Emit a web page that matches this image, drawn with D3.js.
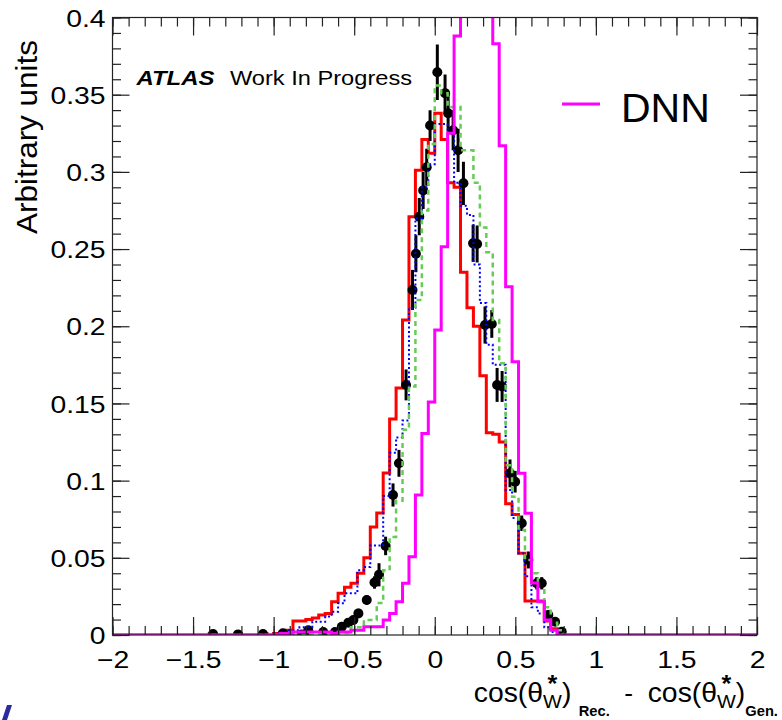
<!DOCTYPE html>
<html><head><meta charset="utf-8">
<script src="https://cdn.jsdelivr.net/npm/d3@7"></script>
<style>
body{margin:0;background:#fff}
svg{display:block}
text{font-family:"Liberation Sans",Arial,Helvetica,sans-serif;fill:#000}
</style>
</head><body>
<svg id="c" width="782" height="720"></svg>
<script>
// ---------------- data ----------------
const binLow = -2, binHigh = 2, nBins = 100;   // histogram binning (0.04 wide)
const xTicksMajor = [-2, -1.5, -1, -0.5, 0, 0.5, 1, 1.5, 2];
const xTickLabels = ["\u22122", "\u22121.5", "\u22121", "\u22120.5", "0", "0.5", "1", "1.5", "2"];
const yTicksMajor = [0, 0.05, 0.1, 0.15, 0.2, 0.25, 0.3, 0.35, 0.4];
const yTickLabels = ["0", "0.05", "0.1", "0.15", "0.2", "0.25", "0.3", "0.35", "0.4"];

// red solid histogram
const redVals = [
 0,0,0,0,0,0,0,0,0,0, 0,0,0,0,0,0.0008,0,0,0,0.0008,
 0,0,0,0.0008,0,0.001,0.002,0.003,0.009,0.009, 0.010,0.011,0.013,0.014,0.0216,0.027,0.031,0.0335,0.040,0.050,
 0.070,0.079,0.105,0.140,0.160,0.204,0.271,0.301,0.321,0.312, 0.338,0.321,0.293,0.290,0.235,0.212,0.200,0.168,0.131,0.130,
 0.125,0.085,0.078,0.053,0.022,0.022,0.022,0.009,0.004,0, 0,0,0,0,0,0,0,0,0,0,
 0,0,0,0,0,0,0,0,0,0, 0,0,0,0,0,0,0,0,0,0];
// blue dotted histogram
const blueVals = [
 0,0,0,0,0,0,0,0,0,0, 0,0,0,0,0,0,0,0,0,0,
 0,0,0,0,0,0.001,0.002,0.003,0.003,0.005, 0.005,0.0086,0.0086,0.012,0.015,0.0205,0.027,0.027,0.042,0.044,
 0.058,0.058,0.090,0.118,0.128,0.139,0.212,0.270,0.290,0.305, 0.331,0.331,0.325,0.293,0.278,0.272,0.240,0.215,0.188,0.175,
 0.175,0.094,0.0758,0.053,0.038,0.018,0.014,0.005,0.002,0, 0,0,0,0,0,0,0,0,0,0,
 0,0,0,0,0,0,0,0,0,0, 0,0,0,0,0,0,0,0,0,0];
// green dashed histogram
const greenVals = [
 0,0,0,0,0,0,0,0,0,0, 0,0,0,0,0,0,0,0,0,0,
 0,0,0,0,0,0,0,0,0,0, 0.001,0.001,0.001,0.0013,0.0013,0.0013,0.0013,0.005,0.005,0.0097,
 0.0097,0.0207,0.042,0.0635,0.087,0.133,0.161,0.217,0.275,0.318, 0.356,0.351,0.342,0.342,0.314,0.314,0.293,0.264,0.248,0.204,
 0.176,0.110,0.0896,0.068,0.0486,0.040,0.029,0.018,0.008,0.003, 0,0,0,0,0,0,0,0,0,0,
 0,0,0,0,0,0,0,0,0,0, 0,0,0,0,0,0,0,0,0,0];
// magenta (DNN) histogram
const dnnVals = [
 0,0,0,0,0,0,0,0,0,0, 0,0,0,0,0,0,0,0,0,0,
 0,0,0,0,0,0,0.001,0.001,0.002,0.002, 0.002,0.002,0.002,0.002,0.001,0.002,0.002,0.003,0.003,0.0054,
 0.0054,0.0054,0.0097,0.014,0.0216,0.0335,0.0507,0.0907,0.1306,0.151, 0.1976,0.2515,0.325,0.388,0.45,0.50,0.52,0.50,0.45,0.383,
 0.317,0.2256,0.177,0.1047,0.0788,0.0337,0.0216,0.0097,0.003,0, 0,0,0,0,0,0,0,0,0,0,
 0,0,0,0,0,0,0,0,0,0, 0,0,0,0,0,0,0,0,0,0];
// black points with error bars
const ptX = [-1.376,-1.221,-1.066,-0.942,-0.826,-0.785,-0.692,-0.619,-0.577,-0.536,-0.505,-0.474,-0.422,-0.374,-0.346,-0.305,-0.259,-0.222,-0.178,-0.138,-0.117,-0.096,-0.072,-0.050,-0.029,0.016,0.064,0.083,0.114,0.145,0.178,0.238,0.263,0.312,0.354,0.387,0.418,0.467,0.499,0.540,0.581,0.633,0.664,0.705,0.747,0.788];
const ptY = [0.0006,0.0004,0.0006,0.0011,0.0003,0.003,0.002,0.002,0.0054,0.008,0.0097,0.014,0.0227,0.034,0.039,0.0577,0.0907,0.1112,0.162,0.2235,0.247,0.271,0.288,0.303,0.330,0.3645,0.351,0.338,0.327,0.314,0.2926,0.2537,0.2533,0.2008,0.2015,0.162,0.161,0.1047,0.0993,0.0724,0.0486,0.0335,0.0335,0.013,0.0086,0.0021];
const ptErr = [0.0012,0.0012,0.0012,0.0012,0.0012,0.0015,0.0015,0.0015,0.002,0.0025,0.0025,0.003,0.003,0.004,0.0075,0.006,0.0075,0.0087,0.010,0.013,0.012,0.012,0.012,0.012,0.010,0.018,0.012,0.012,0.013,0.014,0.014,0.012,0.012,0.012,0.009,0.011,0.010,0.009,0.007,0.005,0.0055,0.004,0.004,0.003,0.002,0.0015];

const legendLabel = "DNN";
const yTitle = "Arbitrary units";

// ---------------- layout ----------------
const svg = d3.select("#c");
const X0 = 112.5, X1 = 757, YB = 635, YT = 17.5;
const x = d3.scaleLinear().domain([binLow, binHigh]).range([X0, X1]);
const y = d3.scaleLinear().domain([0, 0.4]).range([YB, YT]);
const edges = d3.range(nBins + 1).map(i => binLow + i * (binHigh - binLow) / nBins);

function stretch(sel, f) {
  sel.each(function () {
    const L = this.getComputedTextLength();
    d3.select(this).attr("textLength", L * f).attr("lengthAdjust", "spacingAndGlyphs");
  });
}

svg.append("defs").append("clipPath").attr("id", "clip")
  .append("rect").attr("x", X0).attr("y", YT).attr("width", X1 - X0).attr("height", YB - YT);

const plot = svg.append("g").attr("clip-path", "url(#clip)");

function stepPath(vals) {
  let d = "";
  vals.forEach((v, i) => {
    const yv = y(v);
    d += (i === 0 ? `M${x(edges[0])},${yv}` : `V${yv}`) + `H${x(edges[i + 1])}`;
  });
  return d;
}

// red
plot.append("path").attr("d", stepPath(redVals)).attr("fill", "none")
  .attr("stroke", "#ff0000").attr("stroke-width", 3);

// black points
const pts = ptX.map((v, i) => ({ x: v, y: ptY[i], e: ptErr[i] }));
const pg = plot.append("g");
pg.selectAll("line.eb").data(pts).enter().append("line")
  .attr("x1", d => x(d.x)).attr("x2", d => x(d.x))
  .attr("y1", d => y(d.y - d.e)).attr("y2", d => y(d.y + d.e))
  .attr("stroke", "#000").attr("stroke-width", 3);
pg.selectAll("circle").data(pts).enter().append("circle")
  .attr("cx", d => x(d.x)).attr("cy", d => y(d.y)).attr("r", 5).attr("fill", "#000");

// blue dotted
plot.append("path").attr("d", stepPath(blueVals)).attr("fill", "none")
  .attr("stroke", "#0000ff").attr("stroke-width", 2).attr("stroke-dasharray", "2,2.5");
// green dashed
plot.append("path").attr("d", stepPath(greenVals)).attr("fill", "none")
  .attr("stroke", "#66cc55").attr("stroke-width", 2.5).attr("stroke-dasharray", "5,4");
// magenta
plot.append("path").attr("d", stepPath(dnnVals)).attr("fill", "none")
  .attr("stroke", "#ff00ff").attr("stroke-width", 3);

// ---------------- axes ----------------
const xMinor = d3.range(-20, 21).map(i => i / 10);
const yMinor = d3.range(0, 41).map(i => i / 100);
function cleanAxis(g) { g.select(".domain").remove(); g.selectAll("line").attr("stroke", "#222").attr("stroke-width", 1.2); }

svg.append("g").attr("transform", `translate(0,${YB})`)
  .call(d3.axisBottom(x).tickValues(xMinor).tickSize(-9).tickFormat("")).call(cleanAxis);
const xb = svg.append("g").attr("transform", `translate(0,${YB})`)
  .call(d3.axisBottom(x).tickValues(xTicksMajor).tickSize(-18).tickPadding(0)
    .tickFormat((d, i) => xTickLabels[i])).call(cleanAxis);
xb.selectAll("text").attr("dy", 0).attr("y", 33).style("font-size", "24px").call(stretch, 1.18);

svg.append("g").attr("transform", `translate(0,${YT})`)
  .call(d3.axisTop(x).tickValues(xMinor).tickSize(-9).tickFormat("")).call(cleanAxis);
svg.append("g").attr("transform", `translate(0,${YT})`)
  .call(d3.axisTop(x).tickValues(xTicksMajor).tickSize(-18).tickFormat("")).call(cleanAxis);

svg.append("g").attr("transform", `translate(${X0},0)`)
  .call(d3.axisLeft(y).tickValues(yMinor).tickSize(-8.5).tickFormat("")).call(cleanAxis);
const yl = svg.append("g").attr("transform", `translate(${X0},0)`)
  .call(d3.axisLeft(y).tickValues(yTicksMajor).tickSize(-17).tickPadding(0)
    .tickFormat((d, i) => yTickLabels[i])).call(cleanAxis);
yl.selectAll("text").attr("x", -7).attr("dy", "0.36em").style("font-size", "24px").call(stretch, 1.18);

svg.append("g").attr("transform", `translate(${X1},0)`)
  .call(d3.axisRight(y).tickValues(yMinor).tickSize(-8.5).tickFormat("")).call(cleanAxis);
svg.append("g").attr("transform", `translate(${X1},0)`)
  .call(d3.axisRight(y).tickValues(yTicksMajor).tickSize(-17).tickFormat("")).call(cleanAxis);

// frame
svg.append("rect").attr("x", X0).attr("y", YT).attr("width", X1 - X0).attr("height", YB - YT)
  .attr("fill", "none").attr("stroke", "#222").attr("stroke-width", 1.2);

// ---------------- texts ----------------
svg.append("text").attr("transform", "translate(37,40) rotate(-90)")
  .attr("text-anchor", "end").style("font-size", "29px").text(yTitle)
  .attr("textLength", 194).attr("lengthAdjust", "spacingAndGlyphs");

svg.append("text").attr("x", 136.5).attr("y", 85).style("font-size", "20px")
  .style("font-weight", "bold").style("font-style", "italic").text("ATLAS")
  .attr("textLength", 78).attr("lengthAdjust", "spacingAndGlyphs");
svg.append("text").attr("x", 230).attr("y", 85).style("font-size", "20px").text("Work In Progress")
  .attr("textLength", 182).attr("lengthAdjust", "spacingAndGlyphs");

// legend
svg.append("line").attr("x1", 562).attr("x2", 600).attr("y1", 104).attr("y2", 104)
  .attr("stroke", "#ff00ff").attr("stroke-width", 3);
svg.append("text").attr("x", 621).attr("y", 121.5).style("font-size", "41px").text(legendLabel);

// x-axis title: a single text element built from tspans
const xt = svg.append("text").attr("xml:space", "preserve");
let cx = 0;
function piece(str, size, dy, opts = {}) {
  const t = xt.append("tspan").attr("x", cx).attr("y", dy).style("font-size", size + "px").text(str);
  if (opts.bold) t.style("font-weight", "bold");
  const w = t.node().getComputedTextLength();
  cx += w + (opts.gap || 0);
  return w;
}
function wStar() {
  const start = cx;
  const w = piece("W", 19, 6);
  const s = xt.append("tspan").attr("y", -10).style("font-size", "24px").style("font-weight", "bold").text("*");
  const sw = s.node().getComputedTextLength();
  s.attr("x", start + w / 2 - sw / 2);
}
piece("cos(\u03b8", 27, 0);
wStar();
piece(")", 27, 0, { gap: 7 });
piece("Rec.", 14, 14, { bold: true, gap: 0 });
piece("\u00a0\u00a0-\u00a0\u00a0", 25, 0);
piece("cos(\u03b8", 27, 0);
wStar();
piece(")", 27, 0);
piece("Gen.", 14, 14, { bold: true });
const sx = 1.05;
xt.attr("transform", `translate(${778 - cx * sx},702) scale(${sx},1)`);

// partial logo fragment in lower-left corner
svg.append("path").attr("d", "M7,705 L12,705 L7,720 L2,720 Z").attr("fill", "#2b2b9e");
</script>
</body></html>
